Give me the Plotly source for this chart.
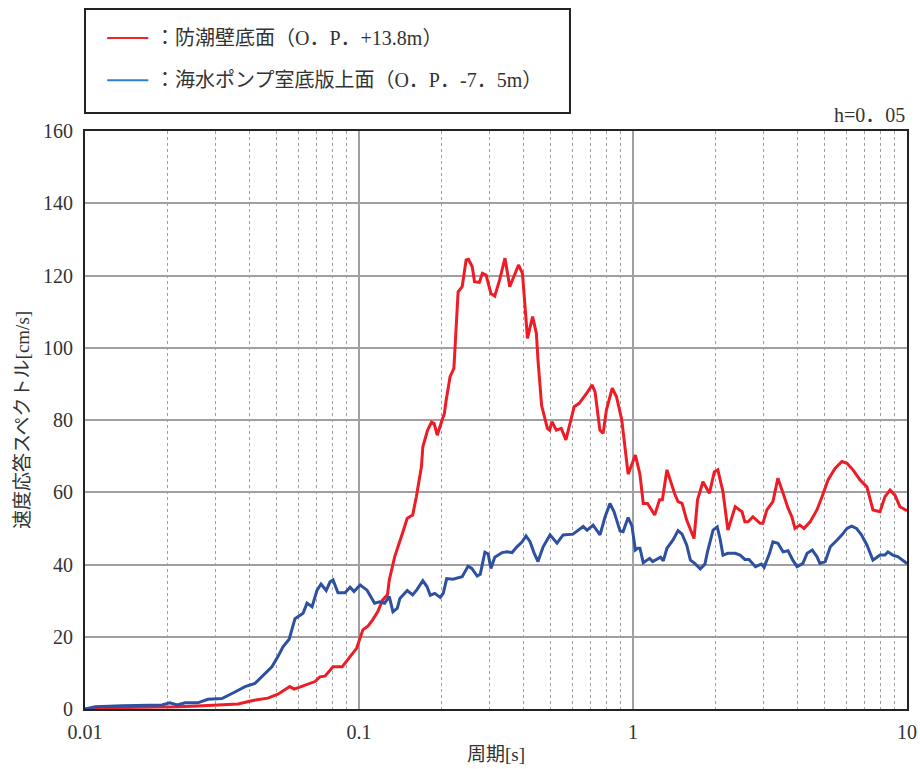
import plotly.graph_objects as go

# 周期[s] と 速度応答スペクトル[cm/s] (h=0.05)
period_red = [0.01, 0.0109, 0.0137, 0.0191, 0.0218, 0.0258, 0.0306, 0.034, 0.0362, 0.0406,
              0.044, 0.0465, 0.0506, 0.053, 0.0559, 0.058, 0.0624, 0.066, 0.0691, 0.072,
              0.0751, 0.0804, 0.0869, 0.0928, 0.098, 0.1033, 0.108, 0.112, 0.117, 0.122,
              0.127, 0.129, 0.135, 0.144, 0.147, 0.15, 0.157, 0.162, 0.169, 0.171,
              0.178, 0.184, 0.188, 0.193, 0.201, 0.205, 0.208, 0.215, 0.222, 0.23,
              0.238, 0.246, 0.251, 0.259, 0.264, 0.275, 0.282, 0.291, 0.303, 0.313,
              0.326, 0.341, 0.355, 0.376, 0.382, 0.395, 0.409, 0.412, 0.43, 0.444,
              0.45, 0.464, 0.487, 0.496, 0.506, 0.525, 0.547, 0.569, 0.61, 0.636,
              0.677, 0.709, 0.727, 0.757, 0.778, 0.8, 0.84, 0.87, 0.91, 0.93,
              0.96, 1.02, 1.06, 1.09, 1.13, 1.2, 1.25, 1.28, 1.33, 1.42,
              1.46, 1.51, 1.57, 1.67, 1.72, 1.8, 1.9, 1.98, 2.04, 2.13,
              2.22, 2.36, 2.5, 2.56, 2.63, 2.74, 2.91, 2.98, 3.08, 3.24,
              3.38, 3.53, 3.68, 3.8, 3.9, 4.06, 4.21, 4.43, 4.69, 4.9,
              5.15, 5.46, 5.79, 6.04, 6.35, 6.74, 7.14, 7.51, 7.97, 8.31,
              8.67, 9.04, 9.42, 10.0]
sv_red = [0.0, 0.3, 0.4, 0.5, 0.6, 0.8, 1.0, 1.2, 1.4, 2.3,
          2.6, 3.0, 4.1, 5.0, 6.2, 5.5, 6.4, 7.1, 7.6, 8.9,
          9.1, 11.7, 11.7, 14.5, 16.8, 21.9, 23.0, 24.6, 26.9, 30.2,
          31.6, 35.7, 42.2, 48.6, 50.5, 52.8, 53.7, 58.8, 67.1, 72.6,
          77.2, 79.4, 79.0, 75.8, 80.0, 81.8, 85.5, 92.0, 94.3, 115.5,
          116.9, 124.3, 124.5, 122.4, 118.3, 118.1, 120.6, 120.1, 115.0, 114.3,
          118.8, 124.8, 116.9, 121.5, 122.9, 120.6, 103.1, 102.6, 108.6, 104.0,
          96.6, 84.0, 77.7, 77.2, 79.5, 77.2, 77.7, 74.5, 83.7, 84.6,
          87.4, 89.7, 87.8, 77.2, 76.3, 82.8, 88.8, 86.5, 80.0, 73.5,
          65.0, 70.3, 65.0, 56.9, 56.9, 53.7, 57.9, 57.9, 66.2, 59.5,
          57.4, 56.9, 52.3, 47.2, 57.9, 62.9, 59.7, 65.6, 66.2, 60.1,
          49.5, 56.0, 54.6, 51.8, 51.8, 53.2, 51.4, 51.4, 55.1, 57.4,
          63.9, 59.7, 55.6, 53.2, 50.0, 50.9, 50.0, 51.8, 55.1, 58.8,
          63.4, 66.6, 68.5, 68.0, 66.2, 63.4, 61.5, 55.1, 54.6, 58.8,
          60.6, 59.2, 56.0, 54.9]

period_blue = [0.01, 0.0109, 0.0137, 0.0191, 0.0204, 0.0217, 0.0232, 0.0258, 0.0281, 0.0316,
               0.0344, 0.0384, 0.0417, 0.0454, 0.0481, 0.0506, 0.0528, 0.0556, 0.0584, 0.0625,
               0.0646, 0.0674, 0.0703, 0.0727, 0.0759, 0.0784, 0.0804, 0.0838, 0.0889, 0.0928,
               0.0959, 0.101, 0.107, 0.114, 0.119, 0.124, 0.129, 0.133, 0.138, 0.141,
               0.15, 0.157, 0.163, 0.171, 0.177, 0.182, 0.189, 0.198, 0.203, 0.209,
               0.22, 0.238, 0.25, 0.258, 0.27, 0.277, 0.288, 0.296, 0.303, 0.313,
               0.333, 0.347, 0.362, 0.377, 0.394, 0.407, 0.421, 0.435, 0.45, 0.47,
               0.498, 0.528, 0.556, 0.604, 0.63, 0.658, 0.68, 0.715, 0.758, 0.791,
               0.824, 0.853, 0.897, 0.92, 0.96, 0.991, 1.02, 1.04, 1.06, 1.09,
               1.15, 1.18, 1.26, 1.29, 1.33, 1.4, 1.46, 1.51, 1.57, 1.62,
               1.68, 1.76, 1.83, 1.87, 1.96, 2.03, 2.08, 2.13, 2.22, 2.36,
               2.46, 2.56, 2.65, 2.8, 2.94, 3.01, 3.15, 3.24, 3.38, 3.53,
               3.68, 3.83, 3.97, 4.17, 4.32, 4.51, 4.69, 4.81, 5.03, 5.25,
               5.56, 5.79, 6.04, 6.28, 6.54, 6.82, 7.14, 7.51, 7.97, 8.31,
               8.52, 8.88, 9.25, 9.65, 10.0]
sv_blue = [0.0, 0.6, 0.9, 1.1, 1.7, 1.1, 1.7, 1.7, 2.7, 2.9,
           4.3, 6.2, 7.1, 9.9, 11.7, 14.5, 17.2, 19.3, 25.0, 26.5,
           29.3, 28.3, 32.9, 34.6, 32.8, 35.2, 35.7, 32.2, 32.2, 33.7,
           32.5, 34.3, 32.9, 29.3, 29.7, 29.3, 31.1, 26.9, 27.9, 30.6,
           32.8, 31.6, 33.1, 35.5, 33.9, 31.5, 32.0, 30.9, 32.0, 36.1,
           35.9, 36.6, 39.5, 38.9, 36.8, 37.3, 43.4, 42.9, 38.9, 42.0,
           43.3, 43.5, 43.3, 44.9, 46.3, 47.9, 46.3, 43.3, 40.8, 44.9,
           48.2, 45.9, 48.2, 48.4, 49.5, 50.5, 49.5, 50.9, 48.2, 53.2,
           56.9, 54.6, 49.3, 49.1, 53.0, 50.7, 44.0, 44.5, 44.5, 40.5,
           41.7, 40.8, 42.0, 41.0, 44.5, 46.8, 49.4, 48.4, 45.4, 41.2,
           40.3, 38.8, 40.1, 43.5, 49.5, 50.4, 47.0, 42.6, 43.1, 43.1,
           42.6, 41.4, 41.4, 39.4, 40.1, 39.2, 43.1, 46.3, 45.9, 43.5,
           43.8, 41.2, 39.4, 40.3, 43.1, 44.0, 42.2, 40.3, 40.8, 44.9,
           46.8, 48.2, 50.0, 50.6, 50.0, 48.2, 45.4, 41.2, 42.6, 42.6,
           43.5, 42.6, 42.2, 41.2, 40.3]

names = ["：防潮壁底面（O．P．+13.8m）", "：海水ポンプ室底版上面（O．P．-7．5m）"]
x_ticks = [0.01, 0.1, 1, 10]
x_tick_text = ["0.01", "0.1", "1", "10"]

RED = "#ee1c25"
BLUE = "#2d50a0"
FONT = "Liberation Serif, Noto Sans CJK JP, serif"

fig = go.Figure()
fig.add_trace(go.Scatter(x=period_red, y=sv_red, mode="lines",
                         line=dict(color=RED, width=3), showlegend=False))
fig.add_trace(go.Scatter(x=period_blue, y=sv_blue, mode="lines",
                         line=dict(color=BLUE, width=3), showlegend=False))

# hand-made legend box above the plot
fig.add_shape(type="rect", xref="paper", yref="paper", x0=0, x1=0.59, y0=1.031, y1=1.211,
              line=dict(color="#222", width=2))
for yy, col, txt in [(1.161, "#e8282e", names[0]), (1.088, "#2f7fd0", names[1])]:
    fig.add_shape(type="line", xref="paper", yref="paper", x0=0.027, x1=0.077, y0=yy, y1=yy,
                  line=dict(color=col, width=2))
    fig.add_annotation(x=0.083, y=yy, xref="paper", yref="paper", text=txt, showarrow=False,
                       xanchor="left", yanchor="middle", font=dict(size=20, color="#333"))

fig.add_annotation(x=1, y=1.005, xref="paper", yref="paper", text="h=0．05", showarrow=False,
                   xanchor="right", yanchor="bottom", font=dict(size=20, color="#333"))

fig.update_layout(
    width=920, height=769,
    margin=dict(l=85, r=13, t=131, b=60),
    paper_bgcolor="white", plot_bgcolor="white",
    font=dict(family=FONT, size=20, color="#333"),
)
fig.update_xaxes(type="log", range=[-2, 1], tickvals=x_ticks, ticktext=x_tick_text,
                 automargin=False,
                 showgrid=True, gridcolor="#a0a0a4", gridwidth=2,
                 minor=dict(dtick="D1", showgrid=True, gridcolor="#a0a0a0", gridwidth=1,
                            griddash="dot", ticks=""),
                 showline=True, linecolor="#222", linewidth=2, mirror=True, ticks="",
                 ticklabelstandoff=4,
                 title=dict(text="周期[s]", standoff=6, font=dict(size=19)))
fig.update_yaxes(range=[0, 160], dtick=20, showgrid=True, gridcolor="#a0a0a4", gridwidth=2,
                 automargin=False,
                 showline=True, linecolor="#222", linewidth=2, mirror=True, ticks="",
                 zeroline=False, ticklabelstandoff=6,
                 title=dict(text="速度応答スペクトル[cm/s]", standoff=8, font=dict(size=19)))

# drop the default page margin so the 920x769 figure fills the window
fig.write_html("out.html", config={"displayModeBar": False},
               post_script="document.body.style.margin='0';document.body.style.overflow='hidden';")
